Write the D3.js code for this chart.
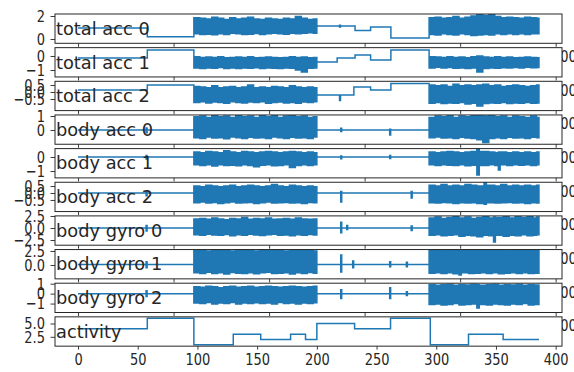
<!DOCTYPE html>
<html><head><meta charset="utf-8">
<script src="https://cdn.jsdelivr.net/npm/d3@7"></script>
<style>body{margin:0;background:#fff}svg{display:block}text{font-family:"DejaVu Sans",sans-serif}</style>
</head><body><svg id="c" width="574" height="372"></svg>
<script>
// ---------- data (x in windows; rows are [x, low, high]) ----------
const panelNames = ["total acc 0","total acc 1","total acc 2","body acc 0","body acc 1","body acc 2","body gyro 0","body gyro 1","body gyro 2","activity"];

const totalAcc0 = [[0,.95,.95],[58,.2,.2],
[97,.45,1.85],[102,.4,1.8],[107,.42,1.75],[112,.38,1.9],[117,.45,1.8],[122,.4,1.7],[127,.5,1.85],[132,.45,1.75],[137,.4,1.8],[142,.42,1.9],[147,.48,1.75],[152,.4,1.7],[157,.45,1.8],[162,.5,1.75],[167,.45,1.7],[172,.42,1.8],[177,.5,1.75],[182,.45,1.95],[187,.5,1.8],[192,.55,1.7],[197,.5,1.75],
[200,1.13,1.13],[219,1.05,1.2],[219.8,1.13,1.13],[232,.75,.75],[245,1.04,1.04],[262,.09,.09],
[294,.4,1.85],[299,.35,1.9],[304,.45,1.8],[309,.4,1.85],[314,.35,1.95],[319,.45,1.8],[324,.4,1.9],[329,.3,2.0],[334,.35,2.1],[339,.4,2.05],[344,.35,2.15],[349,.45,1.95],[354,.4,1.85],[359,.45,1.9],[364,.4,1.85],[369,.45,1.8],[374,.4,1.9],[379,.45,1.85],[384,.45,1.8],[386,.45,1.8]];

const totalAcc1 = [[0,-.14,-.14],[58,.43,.43],
[97,-.85,-.05],[102,-.9,-.1],[107,-.85,-.08],[112,-.88,-.1],[117,-.82,-.05],[122,-.9,-.12],[127,-.85,-.1],[132,-.9,-.08],[137,-.86,-.1],[142,-.88,-.05],[147,-.84,-.12],[152,-.9,-.1],[157,-.85,-.08],[162,-.88,-.1],[167,-.9,-.12],[172,-.85,-.1],[177,-.88,-.05],[182,-1.0,-.1],[187,-1.15,-.08],[192,-.88,-.12],[197,-.85,-.1],
[200,-.43,-.43],[217,-.14,-.14],[232,.07,.07],[245,-.29,-.29],[262,.43,.43],
[294,-.85,-.05],[299,-.8,-.08],[304,-.86,-.1],[309,-.82,-.05],[314,-.88,-.1],[319,-.85,-.08],[324,-.9,-.12],[329,-.85,-.05],[334,-1.15,0],[339,-.9,-.08],[344,-.85,-.1],[349,-.88,-.05],[354,-.84,-.1],[359,-.86,-.08],[364,-.82,-.12],[369,-.85,-.1],[374,-.8,-.08],[379,-.84,-.1],[384,-.82,-.12],[386,-.82,-.12]];

const totalAcc2 = [[0,.14,.14],[58,.5,.5],
[97,-.75,.4],[102,-.7,.35],[107,-.78,.3],[112,-.72,.45],[117,-.75,.3],[122,-.8,.35],[127,-.7,.4],[132,-.75,.3],[137,-.78,.35],[142,-.72,.5],[147,-.75,.3],[152,-.7,.35],[157,-.8,.3],[162,-.75,.4],[167,-.72,.35],[172,-.78,.3],[177,-.75,.45],[182,-.8,.35],[187,-.72,.3],[192,-.75,.35],[197,-.7,.3],
[200,-.21,-.21],[219,-.6,-.21],[219.8,-.21,-.21],[231,.36,.36],[245,.14,.14],[262,.6,.6],
[294,-.8,.5],[299,-.75,.45],[304,-.82,.5],[309,-.78,.4],[314,-.8,.55],[319,-.75,.45],[324,-.85,.5],[329,-.8,.45],[334,-1.0,.5],[339,-.82,.55],[344,-.78,.45],[349,-.8,.5],[354,-.75,.4],[359,-.82,.45],[364,-.78,.5],[369,-.8,.45],[374,-.75,.4],[379,-.8,.45],[384,-.78,.5],[386,-.78,.5]];

const bodyAcc0 = [[0,0,0],[57,-.2,.15],[57.8,0,0],
[97,-.55,.95],[102,-.6,1.0],[107,-.5,.9],[112,-.58,1.05],[117,-.55,.95],[122,-.62,1.0],[127,-.5,.9],[132,-.55,1.1],[137,-.6,.95],[142,-.52,1.0],[147,-.58,.9],[152,-.55,1.05],[157,-.6,.95],[162,-.5,1.1],[167,-.55,.9],[172,-.6,1.0],[177,-.52,1.1],[182,-.58,.95],[187,-.55,1.0],[192,-.6,.9],[197,-.5,.95],
[200,0,0],[220,-.1,.12],[220.8,0,0],[261,-.35,.05],[261.8,0,0],
[294,-.55,.9],[299,-.5,1.0],[304,-.58,.95],[309,-.55,1.05],[314,-.6,.9],[319,-.52,1.0],[324,-.58,.95],[329,-.6,1.1],[334,-.7,1.1],[339,-.9,1.0],[344,-.6,1.05],[349,-.55,.95],[354,-.6,1.0],[359,-.52,.9],[364,-.58,1.0],[369,-.55,.95],[374,-.6,.9],[379,-.52,1.0],[384,-.55,.9],[386,-.55,.9]];

const bodyAcc1 = [[0,0,0],[57,-.15,.1],[57.8,0,0],
[97,-.55,.35],[102,-.6,.3],[107,-.55,.4],[112,-.65,.35],[117,-.55,.3],[122,-.6,.45],[127,-.58,.35],[132,-.62,.3],[137,-.55,.4],[142,-.6,.35],[147,-.7,.3],[152,-.58,.35],[157,-.55,.4],[162,-.62,.35],[167,-.6,.3],[172,-.55,.35],[177,-.75,.4],[182,-.6,.35],[187,-.55,.3],[192,-.6,.35],[197,-.55,.3],
[200,0,0],[220,-.12,.08],[220.8,0,0],[261,-.1,.1],[261.8,0,0],
[294,-.55,.35],[299,-.6,.3],[304,-.55,.35],[309,-.58,.4],[314,-.6,.35],[319,-.55,.3],[324,-.62,.35],[329,-.58,.4],[334,-1.29,.64],[336,-.6,.4],[344,-.55,.35],[349,-.6,.3],[352,-.93,.35],[353.5,-.55,.35],[359,-.6,.3],[364,-.55,.35],[369,-.58,.3],[374,-.55,.35],[379,-.6,.3],[384,-.55,.35],[386,-.55,.35]];

const bodyAcc2 = [[0,0,0],[57,-.2,.1],[57.8,0,0],
[97,-.7,.5],[102,-.65,.45],[107,-.72,.55],[112,-.68,.5],[117,-.75,.45],[122,-.7,.5],[127,-.65,.55],[132,-.72,.45],[137,-.7,.5],[142,-.68,.55],[147,-.75,.5],[152,-.7,.45],[157,-.65,.5],[162,-.72,.6],[167,-.7,.5],[172,-.68,.45],[177,-.72,.55],[182,-.7,.5],[187,-.75,.45],[192,-.68,.5],[197,-.7,.45],
[200,0,0],[220,-.64,.1],[220.8,0,0],[279,-.35,.1],[279.8,0,0],
[294,-.7,.55],[299,-.72,.5],[304,-.68,.6],[309,-.7,.5],[314,-.75,.55],[319,-.7,.5],[324,-.72,.6],[329,-.7,.55],[334,-.75,.5],[340,-.8,.93],[342,-.7,.55],[349,-.72,.5],[354,-.7,.6],[359,-.68,.5],[364,-.72,.55],[369,-.7,.5],[374,-.75,.55],[379,-.7,.5],[384,-.72,.55],[386,-.72,.55]];

const bodyGyro0 = [[0,0,0],[57,-.6,.5],[57.8,0,0],
[97,-1.4,1.9],[102,-1.5,2.0],[107,-1.3,1.8],[112,-1.45,2.1],[117,-1.5,1.9],[122,-1.35,1.7],[127,-1.6,2.0],[132,-1.4,1.9],[137,-1.5,2.2],[142,-1.3,1.8],[147,-1.45,2.0],[152,-1.55,1.9],[157,-1.4,2.1],[162,-1.3,1.8],[167,-1.5,1.9],[172,-1.45,2.0],[177,-1.6,1.8],[182,-1.4,2.1],[187,-1.5,1.9],[192,-1.35,1.8],[197,-1.45,1.9],
[200,0,0],[220,-1.0,1.2],[220.8,0,0],[225,-.3,.5],[225.8,0,0],[279,-.5,.4],[279.8,0,0],
[294,-1.5,2.1],[299,-1.4,2.3],[304,-1.6,2.0],[309,-1.5,2.2],[314,-1.4,2.4],[319,-1.7,2.1],[324,-1.5,2.3],[329,-1.6,2.0],[334,-1.8,2.2],[339,-1.5,2.4],[344,-1.6,2.1],[348,-2.9,2.3],[349.5,-1.5,2.2],[356,-1.7,2.4],[361,-1.5,2.1],[366,-1.6,2.5],[371,-1.4,2.2],[376,-1.6,2.4],[381,-1.5,2.1],[384,-1.4,2.3],[386,-1.4,2.3]];

const bodyGyro1 = [[0,.1,.1],[57,-.5,.6],[57.8,.1,.1],
[97,-1.4,2.6],[102,-1.5,2.7],[107,-1.3,2.5],[112,-1.5,2.76],[117,-1.4,2.6],[122,-1.6,2.7],[127,-1.35,2.5],[132,-1.45,2.76],[137,-1.5,2.6],[142,-1.4,2.7],[147,-1.55,2.5],[152,-1.4,2.76],[157,-1.3,2.6],[162,-1.5,2.7],[167,-1.45,2.76],[172,-1.4,2.5],[177,-1.6,2.7],[182,-1.4,2.6],[187,-1.5,2.76],[192,-1.35,2.6],[197,-1.45,2.5],
[200,.1,.1],[220,-1.25,1.8],[220.8,.1,.1],[230,-.5,.7],[230.8,.1,.1],[261,-.3,.6],[261.8,.1,.1],[275,-.3,.5],[275.8,.1,.1],
[294,-1.45,2.7],[299,-1.4,2.76],[304,-1.5,2.6],[309,-1.4,2.7],[314,-1.55,2.76],[319,-1.8,2.6],[321,-1.4,2.7],[327,-1.5,2.6],[332,-1.45,2.76],[337,-1.4,2.7],[342,-1.5,2.6],[347,-1.4,2.76],[352,-1.55,2.7],[357,-1.45,2.6],[362,-1.4,2.7],[367,-1.5,2.76],[372,-1.4,2.6],[377,-1.5,2.7],[382,-1.45,2.6],[386,-1.45,2.6]];

const bodyGyro2 = [[0,0,0],[57,-.3,.3],[57.8,0,0],
[97,-.95,.7],[102,-1.0,.65],[107,-.9,.75],[112,-1.05,.7],[117,-.95,.6],[122,-1.0,.7],[127,-.9,.75],[132,-1.05,.65],[137,-.95,.7],[142,-1.0,.75],[147,-.92,.65],[152,-1.0,.7],[157,-.95,.75],[162,-1.05,.7],[167,-.9,.65],[172,-1.0,.7],[177,-.95,.75],[182,-1.05,.7],[187,-.95,.65],[192,-1.0,.7],[197,-.92,.75],
[200,0,0],[220,-.5,.4],[220.8,0,0],[261,-.5,.6],[261.8,0,0],[275,-.2,.2],[275.8,0,0],
[294,-1.1,.9],[299,-1.05,.85],[304,-1.15,.9],[309,-1.1,.95],[314,-1.0,.85],[319,-1.15,.9],[324,-1.1,.88],[329,-1.05,.95],[334,-1.45,.9],[336,-1.1,.85],[342,-1.15,.9],[347,-1.05,.95],[352,-1.1,.85],[357,-1.15,.9],[362,-1.05,.88],[367,-1.1,.95],[372,-1.0,.85],[377,-1.15,.9],[382,-1.1,.88],[386,-1.1,.88]];

const activity = [[0,4],[58,6],[97,1],[130,3],[153,2],[178,3],[190.5,2],[200,5],[231.6,4],[261.7,6],[295,1],[327,3],[356,2],[386,2]];

const yLimits = [[-0.374,2.174],[-1.496,0.596],[-1.33,0.764],[-1.018,1.075],[-1.49,0.6],[-1.33,0.77],[-3.58,2.52],[-2.47,2.76],[-1.9,1.05],[0.75,6.25]];
const yTickValues = [[0,2],[-1,0],[-0.5,0,0.5],[0,1],[-1,0],[-0.5,0,0.5],[-2.5,0,2.5],[0,2.5],[-1,0,1],[2.5,5]];
const yTickLabels = [["0","2"],["−1","0"],["−0.5","0.0","0.5"],["0","1"],["−1","0"],["−0.5","0.0","0.5"],["−2.5","0.0","2.5"],["0.0","2.5"],["−1","0","1"],["2.5","5.0"]];

const xLimWindows = [-19.3, 405.3];
const samplesPerWindow = 62.5;
const bottomTickValues = [0,50,100,150,200,250,300,350,400];
const bottomTickLabels = ["0","50","100","150","200","250","300","350","400"];
const sampleTickValues = [0,5000,10000,15000,20000,25000];
const sampleTickLabels = ["0","5000","10000","15000","20000","25000"];

// ---------- drawing ----------
const series = [totalAcc0,totalAcc1,totalAcc2,bodyAcc0,bodyAcc1,bodyAcc2,bodyGyro0,bodyGyro1,bodyGyro2,
  activity.map(d=>[d[0],d[1],d[1]])];

const svg = d3.select("#c");
const L=55, R=562, T0=14, STEP=33.65, AH=29.3;
const BLUE="#1f77b4", INK="#262626", TSTRETCH=1.28;
const x = d3.scaleLinear().domain(xLimWindows).range([L,R]);
const xs = d3.scaleLinear().domain(xLimWindows.map(d=>d*samplesPerWindow)).range([L,R]);
const defs = svg.append("defs");

series.forEach((data,i)=>{
  const top = T0 + i*STEP, bot = top + AH;
  const y = d3.scaleLinear().domain(yLimits[i]).range([bot, top]);
  const g = svg.append("g");
  g.append("rect").attr("x",L).attr("y",top).attr("width",R-L).attr("height",AH).attr("fill","#fff");
  defs.append("clipPath").attr("id","cp"+i).append("rect")
    .attr("x",L).attr("y",top).attr("width",R-L).attr("height",AH);
  const area = d3.area().x(d=>x(d[0])).y0(d=>y(d[1])).y1(d=>y(d[2])).curve(d3.curveStepAfter);
  g.append("path").datum(data).attr("d",area)
    .attr("fill", i<9 ? BLUE : "none").attr("stroke",BLUE).attr("stroke-width",1.5)
    .attr("clip-path","url(#cp"+i+")");
  // label
  g.append("text").attr("x",L+1).attr("y",(top+bot)/2).attr("dy","0.35em")
    .attr("font-size",17.8).attr("fill",INK).text(panelNames[i]);
  // y axis
  const ya = d3.axisLeft(y).tickValues(yTickValues[i])
    .tickFormat((d,k)=>yTickLabels[i][k]).tickSize(4.5).tickPadding(5.5);
  const yg = g.append("g").attr("transform",`translate(${L},0)`).call(ya);
  // x axis
  const isLast = i===9;
  const xa = d3.axisBottom(isLast ? x : xs)
    .tickValues(isLast ? bottomTickValues : sampleTickValues)
    .tickFormat((d,k)=>(isLast ? bottomTickLabels : sampleTickLabels)[k])
    .tickSize(3.5).tickPadding(3.5);
  const xg = g.append("g").attr("transform",`translate(0,${bot})`).call(xa);
  [yg,xg].forEach(a=>{
    a.select(".domain").remove();
    a.selectAll(".tick line").attr("stroke",INK).attr("stroke-width",0.9);
    a.selectAll(".tick text").attr("fill",INK).attr("font-size",13)
      .attr("font-family","'DejaVu Sans',sans-serif");
  });
  yg.selectAll(".tick text").attr("transform",`scale(1,${TSTRETCH})`);
  xg.selectAll(".tick text").attr("transform",`translate(0,7) scale(1,${TSTRETCH}) translate(0,-7)`);
  // spines
  g.append("rect").attr("x",L).attr("y",top).attr("width",R-L).attr("height",AH)
    .attr("fill","none").attr("stroke",INK).attr("stroke-width",1);
});
</script></body></html>
